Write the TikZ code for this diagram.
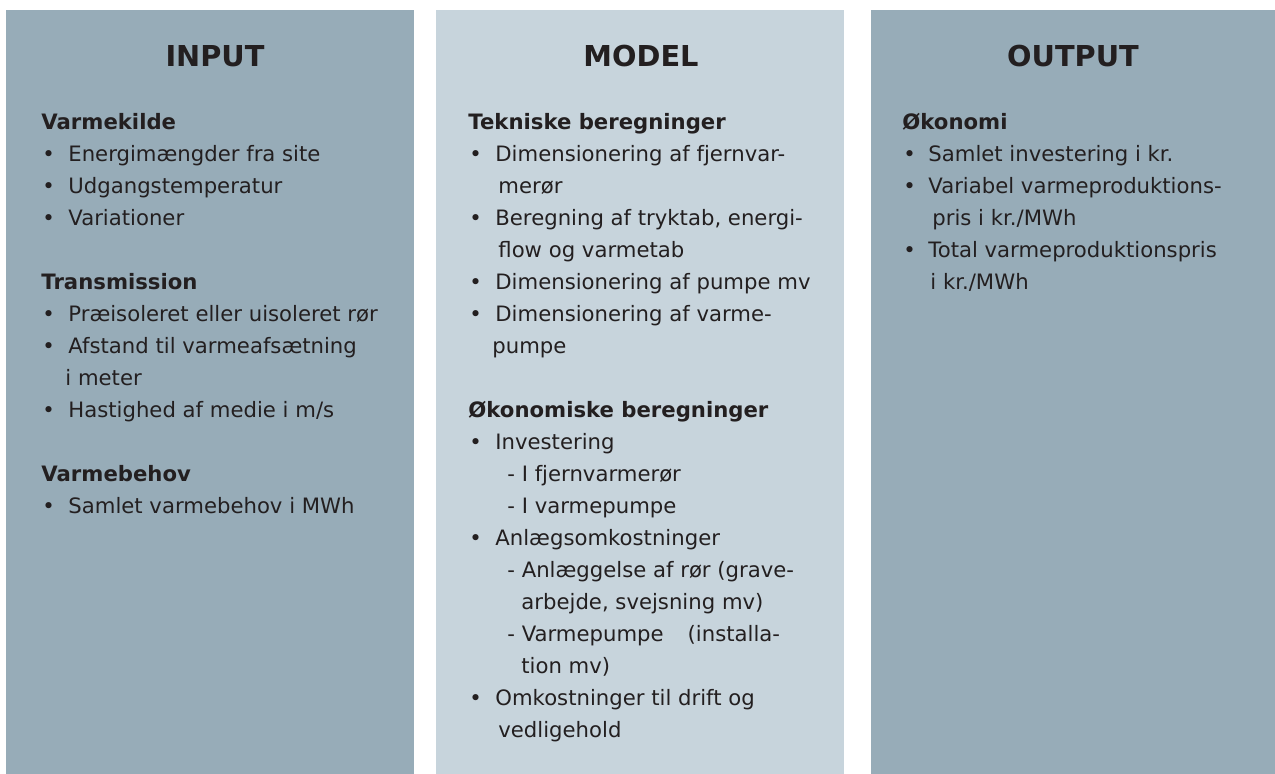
\documentclass[tikz,border=0pt]{standalone}
\usepackage{fontspec}
\setmainfont{DejaVu Sans}
\definecolor{paneldark}{HTML}{97ACB8}
\definecolor{panellight}{HTML}{C7D4DC}
\definecolor{inktext}{HTML}{231F20}

\begin{document}
\begin{tikzpicture}[x=0.5pt, y=-0.5pt,
    title/.style={font=\fontsize{14.4}{18}\selectfont\bfseries, text=inktext, inner sep=0pt, anchor=base},
    entry/.style={font=\fontsize{10.6}{12}\selectfont, text=inktext, inner sep=0pt, anchor=base west}]

  \useasboundingbox (0,0) rectangle (1275,774);

  % Panels
  \fill[paneldark] (6,10) rectangle (414,774);
  \fill[panellight] (436,10) rectangle (844,774);
  \fill[paneldark] (871,10) rectangle (1275,774);

  % Titles
  \node[title] (input) at (215,67) {INPUT};
  \node[title] (model) at (641,67) {MODEL};
  \node[title] (output) at (1073,67) {OUTPUT};

  % Input column
  \foreach \k/\x/\t [count=\n] in {0/41/{\bfseries Varmekilde}, 1/68/{Energimængder fra site},
      2/68/{Udgangstemperatur}, 3/68/{Variationer}, 5/41/{\bfseries Transmission},
      6/68/{Præisoleret eller uisoleret rør}, 7/68/{Afstand til varmeafsætning},
      8/65/{i meter}, 9/68/{Hastighed af medie i m/s}, 11/41/{\bfseries Varmebehov},
      12/68/{Samlet varmebehov i MWh}}
    \node[entry] (in-\n) at (\x,{130+32*\k}) {\t};
  \foreach \k in {1,2,3,6,7,9,12}
    \node[entry] (in-dot-\k) at (42,{130+32*\k}) {\textbullet};

  % Model column
  \foreach \k/\x/\t [count=\n] in {0/468/{\bfseries Tekniske beregninger},
      1/495/{Dimensionering af fjernvar-}, 2/498/{merør},
      3/495/{Beregning af tryktab, energi-}, 4/498/{flow og varmetab},
      5/495/{Dimensionering af pumpe mv}, 6/495/{Dimensionering af varme-},
      7/492/{pumpe}, 9/468/{\bfseries Økonomiske beregninger}, 10/495/{Investering},
      11/507/{- I fjernvarmerør}, 12/507/{- I varmepumpe}, 13/495/{Anlægsomkostninger},
      14/507/{- Anlæggelse af rør (grave-}, 15/521/{arbejde, svejsning mv)},
      16/507/{- Varmepumpe\hspace{12pt}(installa-}, 17/521/{tion mv)},
      18/495/{Omkostninger til drift og}, 19/498/{vedligehold}}
    \node[entry] (mod-\n) at (\x,{130+32*\k}) {\t};
  \foreach \k in {1,3,5,6,10,13,18}
    \node[entry] (mod-dot-\k) at (469,{130+32*\k}) {\textbullet};

  % Output column
  \foreach \k/\x/\t [count=\n] in {0/902/{\bfseries Økonomi}, 1/928/{Samlet investering i kr.},
      2/928/{Variabel varmeproduktions-}, 3/932/{pris i kr./MWh},
      4/928/{Total varmeproduktionspris}, 5/930/{i kr./MWh}}
    \node[entry] (out-\n) at (\x,{130+32*\k}) {\t};
  \foreach \k in {1,2,4}
    \node[entry] (out-dot-\k) at (903,{130+32*\k}) {\textbullet};
\end{tikzpicture}
\end{document}
